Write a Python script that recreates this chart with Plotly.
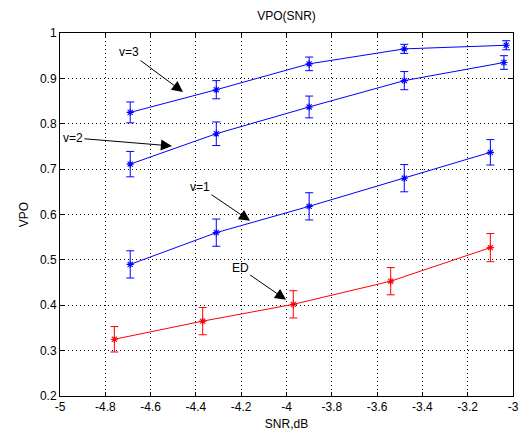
import plotly.graph_objects as go

snr_v3 = [-4.69, -4.31, -3.90, -3.48, -3.03]
vpo_v3 = [0.825, 0.875, 0.932, 0.965, 0.973]
err_v3 = [0.023, 0.020, 0.015, 0.010, 0.010]

snr_v2 = [-4.69, -4.31, -3.90, -3.48, -3.04]
vpo_v2 = [0.711, 0.778, 0.837, 0.895, 0.935]
err_v2 = [0.028, 0.026, 0.024, 0.020, 0.015]

snr_v1 = [-4.69, -4.31, -3.90, -3.48, -3.10]
vpo_v1 = [0.490, 0.560, 0.618, 0.680, 0.737]
err_v1 = [0.030, 0.030, 0.030, 0.030, 0.028]

snr_ed = [-4.76, -4.37, -3.97, -3.54, -3.10]
vpo_ed = [0.325, 0.365, 0.402, 0.453, 0.527]
err_ed = [0.028, 0.030, 0.030, 0.030, 0.031]

x_ticks = [-5, -4.8, -4.6, -4.4, -4.2, -4, -3.8, -3.6, -3.4, -3.2, -3]
x_tick_text = ["-5", "-4.8", "-4.6", "-4.4", "-4.2", "-4", "-3.8", "-3.6", "-3.4", "-3.2", "-3"]
y_ticks = [0.2, 0.3, 0.4, 0.5, 0.6, 0.7, 0.8, 0.9, 1]
y_tick_text = ["0.2", "0.3", "0.4", "0.5", "0.6", "0.7", "0.8", "0.9", "1"]

labels = ["v=3", "v=2", "v=1", "ED"]
label_pos = [(-4.695, 0.958), (-4.943, 0.769), (-4.382, 0.661), (-4.205, 0.482)]
arrow_head = [(-4.457, 0.870), (-4.506, 0.751), (-4.161, 0.586), (-4.002, 0.412)]

fig = go.Figure()
series = [(snr_v3, vpo_v3, err_v3, "#0000ff"), (snr_v2, vpo_v2, err_v2, "#0000ff"),
          (snr_v1, vpo_v1, err_v1, "#0000ff"), (snr_ed, vpo_ed, err_ed, "#ff0000")]
for x, y, e, c in series:
    fig.add_trace(go.Scatter(
        x=x, y=y, mode="lines+markers",
        line=dict(color=c, width=1),
        marker=dict(symbol="asterisk-open", size=6, color=c, line=dict(color=c, width=1.1)),
        error_y=dict(type="data", array=e, visible=True, color=c, thickness=1, width=4),
        showlegend=False, cliponaxis=False,
    ))

for t, (tx, ty), (hx, hy) in zip(labels, label_pos, arrow_head):
    fig.add_annotation(x=hx, y=hy, ax=tx, ay=ty, xref="x", yref="y", axref="x", ayref="y",
                       text=t, showarrow=True, arrowhead=2, arrowsize=2.2, arrowwidth=1,
                       arrowcolor="black", font=dict(size=12, color="black"))

axis_common = dict(showline=True, linecolor="black", linewidth=1, mirror="ticks",
                   ticks="inside", ticklen=4, tickcolor="black",
                   showgrid=True, gridcolor="black", griddash="1px,3px", gridwidth=1,
                   zeroline=False, tickfont=dict(size=12, color="black"), automargin=False)

fig.update_xaxes(range=[-5, -3], tickvals=x_ticks, ticktext=x_tick_text,
                 title=dict(text="SNR,dB", font=dict(size=12, color="black"), standoff=6),
                 **axis_common)
fig.update_yaxes(range=[0.2, 1], tickvals=y_ticks, ticktext=y_tick_text,
                 title=dict(text="VPO", font=dict(size=12, color="black"), standoff=8),
                 **axis_common)

fig.update_layout(
    width=522, height=437,
    margin=dict(l=60, r=9, t=33, b=41),
    paper_bgcolor="white", plot_bgcolor="white",
    font=dict(family="Liberation Sans, Arial, sans-serif", size=12, color="black"),
    title=dict(text="VPO(SNR)", x=0.5, xref="paper", y=1, yref="container", yanchor="top", pad=dict(t=12),
               font=dict(size=12, color="black")),
)

fig.write_html("out.html", config={"displayModeBar": False},
               post_script="document.body.style.margin='0';document.body.style.overflow='hidden';")
